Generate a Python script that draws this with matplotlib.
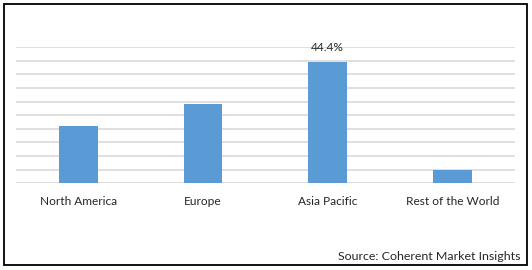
import matplotlib
matplotlib.use("Agg")
import matplotlib.pyplot as plt
from matplotlib.patches import Rectangle

categories = ["North America", "Europe", "Asia Pacific", "Rest of the World"]
values = [21.0, 29.0, 44.4, 4.8]
label_index = 2
label_text = "44.4%"
source = "Source: Coherent Market Insights"

W, H = 532, 270
fig = plt.figure(figsize=(W / 100, H / 100), dpi=100)
plt.rcParams['font.family'] = ['Lato', 'DejaVu Sans']

ax = fig.add_axes([16 / W, 1 - 183.3 / H, (514.7 - 16) / W, (183.3 - 47) / H])
x = list(range(len(categories)))
ax.bar(x, values, width=0.31, color="#5B9BD5", zorder=3)
ax.set_xlim(-0.5, len(categories) - 0.5)
ax.set_ylim(0, 50)
ax.set_yticks([i * 5 for i in range(11)])
ax.yaxis.grid(True, color="#D9D9D9", linewidth=1.2, zorder=0)
ax.tick_params(axis="y", left=False, labelleft=False)
ax.tick_params(axis="x", bottom=False, pad=5.5)
ax.set_xticks(x)
ax.set_xticklabels(categories, fontsize=8.6, color="#262626")
for s in ax.spines.values():
    s.set_visible(False)
ax.text(x[label_index], values[label_index] + 3.4, label_text, ha="center", va="bottom",
        fontsize=8.6, color="#262626")

fig.text(521 / W, 1 - 256 / H, source, ha="right", va="center", fontsize=8.9, color="#262626")
fig.patches.append(Rectangle((3.5 / W, 1 - 265 / H), (527 - 3.5) / W, (265 - 3.5) / H,
                             transform=fig.transFigure, fill=False, edgecolor="black",
                             linewidth=1.3))
fig.savefig("out.png", dpi=100)
